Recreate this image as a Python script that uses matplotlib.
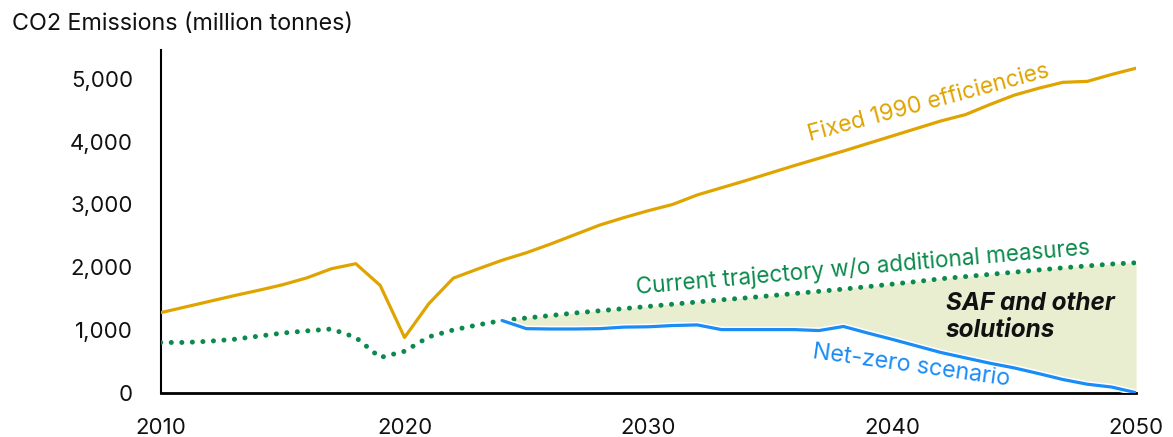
import numpy as np
import matplotlib.pyplot as plt
import matplotlib.patheffects as pe

plt.rcParams['font.family'] = ['Inter', 'DejaVu Sans']

years = list(range(2010, 2051))

fixed_1990 = [1275, 1365, 1455, 1545, 1630, 1720, 1830, 1975, 2055, 1710,
              880, 1420, 1825, 1970, 2110, 2230, 2370, 2520, 2670, 2790,
              2900, 3000, 3150, 3265, 3380, 3500, 3620, 3735, 3850, 3970,
              4090, 4210, 4330, 4430, 4590, 4740, 4850, 4945, 4960, 5070,
              5170]

current = [800, 800, 820, 850, 900, 950, 985, 1015, 880, 560,
           660, 890, 1000, 1080, 1150, 1190, 1230, 1270, 1305, 1340,
           1375, 1410, 1445, 1480, 1510, 1545, 1580, 1615, 1650, 1690,
           1730, 1770, 1815, 1850, 1885, 1920, 1955, 1990, 2020, 2050,
           2070]

nz_years = list(range(2024, 2051))
net_zero = [1150, 1020, 1015, 1015, 1020, 1045, 1050, 1070, 1080, 1005,
            1005, 1005, 1005, 990, 1055, 950, 850, 745, 640, 555,
            470, 395, 305, 210, 135, 90, 0]

gold = '#E0A400'
green = '#0B8A4C'
blue = '#1A8CF5'
fill_col = '#E8EECF'

fig = plt.figure(figsize=(11.73, 4.37), dpi=100)
ax = fig.add_axes([0.137, 0.1014, 0.8315, 0.7842])

cur_tail = np.array(current[14:])
ax.fill_between(nz_years, net_zero, cur_tail, color=fill_col, lw=0, zorder=1)

ax.plot(years, fixed_1990, color=gold, lw=2.3, solid_joinstyle='round', zorder=3)
ax.plot(years, current, color=green, lw=3.6, linestyle=(0, (0.01, 2.1)),
        dash_capstyle='round', zorder=3)
ax.plot(nz_years, net_zero, color=blue, lw=2.3, solid_capstyle='round', zorder=4,
        path_effects=[pe.Stroke(linewidth=4.5, foreground='white'), pe.Normal()])

ax.set_xlim(2010, 2050)
ax.set_ylim(0, 5460)
ax.set_xticks([2010, 2020, 2030, 2040, 2050])
ax.set_yticks([0, 1000, 2000, 3000, 4000, 5000])
ax.set_yticklabels(['0', '1,000', '2,000', '3,000', '4,000', '5,000'])
ax.tick_params(axis='both', length=0, labelsize=16, colors='#111111')
ax.tick_params(axis='y', pad=20)
ax.tick_params(axis='x', pad=18)

for s in ['top', 'right']:
    ax.spines[s].set_visible(False)
ax.spines['left'].set_linewidth(1.5)
ax.spines['bottom'].set_linewidth(2)

fig.text(0.01, 0.945, 'CO2 Emissions (million tonnes)', fontsize=16.8,
         color='#111111', va='center', ha='left')

ax.text(2041.5, 4620, 'Fixed 1990 efficiencies', color=gold, fontsize=16.5,
        rotation=15, ha='center', va='center', rotation_mode='anchor')
ax.text(2038.8, 1990, 'Current trajectory w/o additional measures', color=green,
        fontsize=16.2, rotation=5, ha='center', va='center', rotation_mode='anchor')
ax.text(2040.8, 420, 'Net-zero scenario', color=blue, fontsize=16.8,
        rotation=-8, ha='center', va='center', rotation_mode='anchor')
ax.text(2042.2, 1210, 'SAF and other\nsolutions', color='#111111', fontsize=17.5,
        fontweight='bold', fontstyle='italic', ha='left', va='center',
        linespacing=1.2)

fig.savefig('out.png', dpi=100)
